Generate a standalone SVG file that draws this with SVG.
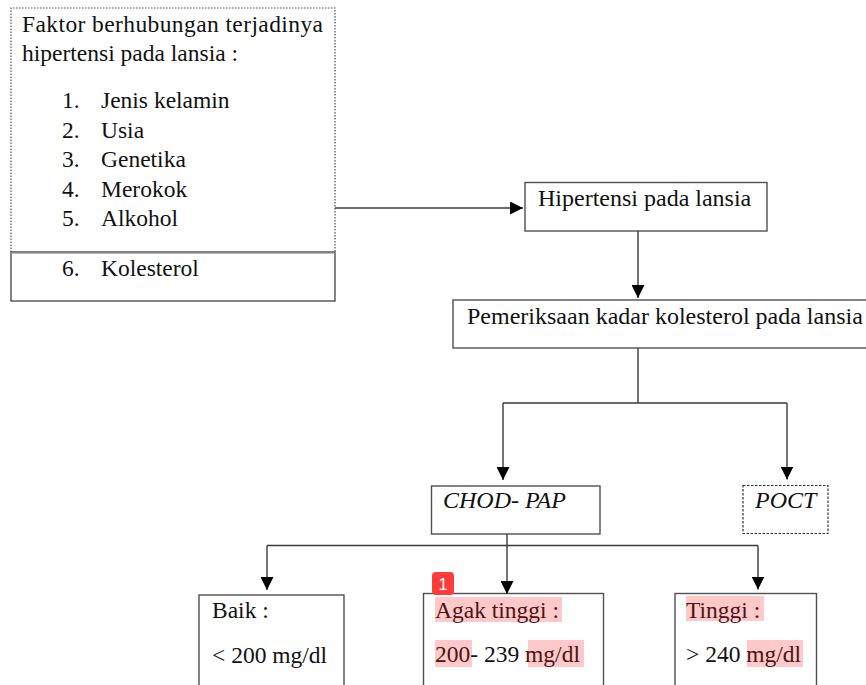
<svg xmlns="http://www.w3.org/2000/svg" width="866" height="685" viewBox="0 0 866 685">
<style>
  .t { font-family: 'Liberation Serif', 'DejaVu Serif', serif; font-size: 23.5px; fill: #111; }
  .big { font-size: 24px; }
  .it { font-style: italic; font-size: 24px; }
  .box { fill: #fff; stroke: #505050; stroke-width: 1.4; }
  .dot { fill: none; stroke: #505050; stroke-width: 1.2; stroke-dasharray: 1.5 1.5; }
  .dash { fill: #fff; stroke: #333; stroke-width: 1.2; stroke-dasharray: 2.5 1.5; }
  .con { fill: none; stroke: #3a3a3a; stroke-width: 1.4; }
  .hl { fill: #ffc9c9; }
  .hlt { fill: #4a1414; }
  .badge { fill: #ff3b3b; }
  .badgetxt { font-family: 'Liberation Sans', Arial, sans-serif; font-size: 16.5px; fill: #fff; }
</style>
<defs>
  <marker id="arr" markerUnits="userSpaceOnUse" markerWidth="14" markerHeight="13" refX="13" refY="6.5" orient="auto">
    <path d="M0,0 L13,6.5 L0,13 z" fill="#000"/>
  </marker>
</defs>

<g id="node-faktor" class="t" font-family="Liberation Serif, serif">
  <path class="dot" d="M11,252 L11,8 L335,8 L335,252"/>
  <rect class="box" x="11" y="252" width="324" height="49"/>
  <line x1="11" y1="253.5" x2="335" y2="253.5" stroke="#aaa" stroke-width="0.8"/>
  <text x="22" y="32" textLength="301" lengthAdjust="spacing">Faktor berhubungan terjadinya</text>
  <text x="22" y="61">hipertensi pada lansia :</text>
  <text x="62" y="108">1.</text><text x="101" y="108">Jenis kelamin</text>
  <text x="62" y="137.5">2.</text><text x="101" y="137.5">Usia</text>
  <text x="62" y="167">3.</text><text x="101" y="167">Genetika</text>
  <text x="62" y="196.5">4.</text><text x="101" y="196.5">Merokok</text>
  <text x="62" y="226">5.</text><text x="101" y="226">Alkohol</text>
  <text x="62" y="276">6.</text><text x="101" y="276">Kolesterol</text>
</g>

<g id="node-hipertensi" class="t" font-family="Liberation Serif, serif">
  <rect class="box" x="525" y="182.5" width="242" height="48.5"/>
  <text class="big" x="538" y="206">Hipertensi pada lansia</text>
</g>

<g id="node-pemeriksaan" class="t" font-family="Liberation Serif, serif">
  <rect class="box" x="453" y="300" width="430" height="48"/>
  <text class="big" x="467" y="324">Pemeriksaan kadar kolesterol pada lansia</text>
</g>

<g id="node-chod" class="t" font-family="Liberation Serif, serif">
  <rect class="box" x="431.5" y="486" width="168.5" height="48"/>
  <text class="it" x="443" y="508">CHOD- PAP</text>
</g>

<g id="node-poct" class="t" font-family="Liberation Serif, serif">
  <rect class="dash" x="743" y="485.5" width="85" height="48"/>
  <text class="it" x="755" y="508">POCT</text>
</g>

<g id="node-baik" class="t" font-family="Liberation Serif, serif">
  <rect class="box" x="199" y="595" width="145" height="110"/>
  <text x="212" y="618">Baik :</text>
  <text x="212" y="662.5">&lt; 200 mg/dl</text>
</g>

<g id="node-agak" class="t" font-family="Liberation Serif, serif">
  <rect class="box" x="423.5" y="593.5" width="180" height="110"/>
  <rect class="hl" x="435" y="597" width="127" height="25"/>
  <rect class="hl" x="435" y="640" width="37" height="27"/>
  <rect class="hl" x="528" y="640" width="56" height="27"/>
  <text x="435" y="617.5" class="hlt">Agak tinggi :</text>
  <text x="435" y="662"><tspan class="hlt">200</tspan>- 239 <tspan class="hlt">mg/dl</tspan></text>
</g>

<g id="node-tinggi" class="t" font-family="Liberation Serif, serif">
  <rect class="box" x="675" y="593.5" width="141.5" height="110"/>
  <rect class="hl" x="686" y="596" width="78" height="25"/>
  <rect class="hl" x="747" y="640" width="56" height="27"/>
  <text x="686" y="617.5" class="hlt">Tinggi :</text>
  <text x="686" y="662">&gt; 240 <tspan class="hlt">mg/dl</tspan></text>
</g>

<g id="connectors">
  <line class="con" x1="335" y1="208" x2="523" y2="208" marker-end="url(#arr)"/>
  <line class="con" x1="638" y1="231" x2="638" y2="298" marker-end="url(#arr)"/>
  <line class="con" x1="638" y1="348" x2="638" y2="403"/>
  <line class="con" x1="503" y1="403" x2="787" y2="403"/>
  <line class="con" x1="503" y1="403" x2="503" y2="480" marker-end="url(#arr)"/>
  <line class="con" x1="787" y1="403" x2="787" y2="479.5" marker-end="url(#arr)"/>
  <line class="con" x1="507" y1="534" x2="507" y2="594" marker-end="url(#arr)"/>
  <line class="con" x1="267" y1="545.5" x2="758" y2="545.5"/>
  <line class="con" x1="267" y1="545.5" x2="267" y2="590" marker-end="url(#arr)"/>
  <line class="con" x1="758" y1="545.5" x2="758" y2="589.5" marker-end="url(#arr)"/>
</g>

<g id="badge">
  <rect class="badge" x="432" y="572" width="22" height="23" rx="4"/>
  <text class="badgetxt" x="443" y="589.5" text-anchor="middle">1</text>
</g>
</svg>
